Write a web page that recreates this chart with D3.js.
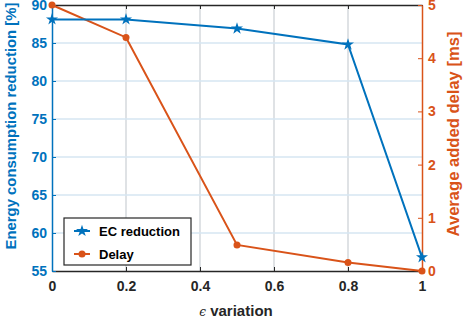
<!DOCTYPE html>
<html><head><meta charset="utf-8">
<script src="https://cdn.jsdelivr.net/npm/d3@7"></script>
<style>body{margin:0;background:#fff}svg text{font-family:"Liberation Sans",Arial,sans-serif;font-weight:bold}</style>
</head><body><svg id="c" width="463" height="318"></svg>
<script>
const epsilon = [0, 0.2, 0.5, 0.8, 1];
const ecReduction = [88.1, 88.1, 86.9, 84.8, 56.8];
const delay = [5.0, 4.39, 0.49, 0.16, 0.0];
const xTicks = [0, 0.2, 0.4, 0.6, 0.8, 1];
const yLeftTicks = [55, 60, 65, 70, 75, 80, 85, 90];
const yRightTicks = [0, 1, 2, 3, 4, 5];

const blue = "#0072BD", orange = "#D95319", dark = "#262626";
const m = {l: 52, r: 422, t: 5, b: 271};
const svg = d3.select("#c");
const x = d3.scaleLinear().domain([0, 1]).range([m.l, m.r]);
const yL = d3.scaleLinear().domain([55, 90]).range([m.b, m.t]);
const yR = d3.scaleLinear().domain([0, 5]).range([m.b, m.t]);
const fmt = d3.format("~g");

// grids
svg.append("g").selectAll("line").data(xTicks.slice(1, -1)).join("line")
  .attr("x1", d => x(d)).attr("x2", d => x(d)).attr("y1", m.t).attr("y2", m.b)
  .attr("stroke", "#d5d8dc").attr("stroke-width", 1.5);
svg.append("g").selectAll("line").data(yLeftTicks.slice(1, -1)).join("line")
  .attr("x1", m.l).attr("x2", m.r).attr("y1", d => yL(d)).attr("y2", d => yL(d))
  .attr("stroke", "#d6e6f2").attr("stroke-width", 1.5);

// axes
const fs = "14px";
const gB = svg.append("g").attr("transform", `translate(0,${m.b})`)
  .call(d3.axisBottom(x).tickValues(xTicks).tickFormat(fmt).tickSizeInner(-4).tickSizeOuter(0).tickPadding(10));
gB.select(".domain").attr("stroke", dark).attr("stroke-width", 1.3);
gB.selectAll(".tick line").attr("stroke", dark);
gB.selectAll("text").attr("fill", dark).style("font-size", fs);

const gT = svg.append("g").attr("transform", `translate(0,${m.t})`)
  .call(d3.axisTop(x).tickValues(xTicks).tickFormat("").tickSizeInner(-4).tickSizeOuter(0));
gT.select(".domain").attr("stroke", dark).attr("stroke-width", 1.3);
gT.selectAll(".tick line").attr("stroke", dark);

const gL = svg.append("g").attr("transform", `translate(${m.l},0)`)
  .call(d3.axisLeft(yL).tickValues(yLeftTicks).tickFormat(fmt).tickSizeInner(-4).tickSizeOuter(0).tickPadding(5));
gL.select(".domain").attr("stroke", blue).attr("stroke-width", 1.5);
gL.selectAll(".tick line").attr("stroke", blue);
gL.selectAll("text").attr("fill", blue).style("font-size", fs);

const gR = svg.append("g").attr("transform", `translate(${m.r},0)`)
  .call(d3.axisRight(yR).tickValues(yRightTicks).tickFormat(fmt).tickSizeInner(-4).tickSizeOuter(0).tickPadding(6));
gR.select(".domain").attr("stroke", orange).attr("stroke-width", 1.5);
gR.selectAll(".tick line").attr("stroke", orange);
gR.selectAll("text").attr("fill", orange).style("font-size", fs);

// lines
const lineEC = d3.line().x((d, i) => x(epsilon[i])).y(d => yL(d));
const lineD = d3.line().x((d, i) => x(epsilon[i])).y(d => yR(d));
svg.append("path").datum(delay).attr("d", lineD).attr("fill", "none").attr("stroke", orange).attr("stroke-width", 2);
svg.append("g").selectAll("circle").data(delay).join("circle")
  .attr("cx", (d, i) => x(epsilon[i])).attr("cy", d => yR(d)).attr("r", 3.5).attr("fill", orange);
svg.append("path").datum(ecReduction).attr("d", lineEC).attr("fill", "none").attr("stroke", blue).attr("stroke-width", 2);
const star = d3.symbol().type(d3.symbolStar).size(45);
svg.append("g").selectAll("path").data(ecReduction).join("path")
  .attr("transform", (d, i) => `translate(${x(epsilon[i])},${yL(d)})`).attr("d", star()).attr("fill", blue);

// axis labels (fit to measured lengths of the reference)
function fitText(sel, target) {
  const len = sel.node().getComputedTextLength();
  const f = parseFloat(sel.style("font-size"));
  sel.style("font-size", (f * target / len) + "px");
}
const ll = svg.append("text").attr("transform", `translate(12,126) rotate(-90)`)
  .attr("text-anchor", "middle").attr("dominant-baseline", "middle").attr("fill", blue).style("font-size", "14px")
  .text("Energy consumption reduction [%]");
fitText(ll, 247);
const rl = svg.append("text").attr("transform", `translate(455,134) rotate(-90)`)
  .attr("text-anchor", "middle").attr("dominant-baseline", "middle").attr("fill", orange).style("font-size", "14px")
  .text("Average added delay [ms]");
fitText(rl, 205);
const xl = svg.append("text").attr("x", 236).attr("y", 316).attr("text-anchor", "middle")
  .attr("fill", dark).style("font-size", "15px");
xl.append("tspan").style("font-weight", "normal").style("font-family", "DejaVu Serif, serif").style("font-style", "italic").style("font-size", "12px").text("ϵ");
xl.append("tspan").text(" variation");

// legend
const lg = svg.append("g").attr("transform", "translate(64,218)");
lg.append("rect").attr("width", 127).attr("height", 47).attr("fill", "#fff").attr("stroke", dark).attr("stroke-width", 1.2);
const items = [{name: "EC reduction", color: blue, sym: "star"}, {name: "Delay", color: orange, sym: "circle"}];
items.forEach((it, i) => {
  const cy = 13 + i * 23;
  lg.append("line").attr("x1", 10).attr("x2", 26).attr("y1", cy).attr("y2", cy).attr("stroke", it.color).attr("stroke-width", 2);
  if (it.sym === "star") lg.append("path").attr("transform", `translate(18,${cy})`).attr("d", star()).attr("fill", it.color);
  else lg.append("circle").attr("cx", 18).attr("cy", cy).attr("r", 3.5).attr("fill", it.color);
  lg.append("text").attr("x", 35).attr("y", cy).attr("dominant-baseline", "central").attr("fill", "#000").style("font-size", "13px").text(it.name);
});
</script></body></html>
